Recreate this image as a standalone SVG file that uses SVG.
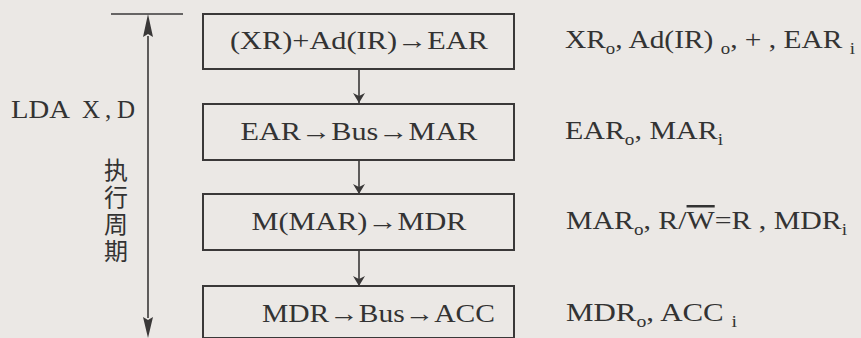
<svg xmlns="http://www.w3.org/2000/svg" width="861" height="338" viewBox="0 0 861 338">
<style>
.bg{fill:#ebe8e5}
.box{fill:none;stroke:#3a3838;stroke-width:2}
.ln{stroke:#3a3838;stroke-width:1.6;fill:none}
.t{font-family:'Liberation Serif','DejaVu Serif',serif;font-size:25px;fill:#333}
.bt{text-anchor:middle}
.sub{font-size:16px}
.ov{text-decoration:overline}
.cjk{font-family:'Noto Sans CJK SC',sans-serif;font-size:24px;fill:#333}
</style>
<defs>
<marker id="ah" viewBox="0 0 10 20" refX="10" refY="10" markerWidth="10" markerHeight="20" markerUnits="userSpaceOnUse" orient="auto">
<path d="M0,4 L10,10 L0,16 L3,10 Z" fill="#3a3838"/>
</marker>
</defs>
<rect class="bg" x="0" y="0" width="861" height="338"/>
<g id="connectors">
<line class="ln" x1="111" y1="14" x2="183" y2="14"/>
<line class="ln" x1="148" y1="36" x2="148" y2="318"/>
<path d="M148,14 L153,37 L148,34 L143,37 Z" fill="#3a3838"/>
<path d="M148,338 L153,317 L148,320 L143,317 Z" fill="#3a3838"/>
<line class="ln" x1="359" y1="69" x2="359" y2="103" marker-end="url(#ah)"/>
<line class="ln" x1="359" y1="160" x2="359" y2="194" marker-end="url(#ah)"/>
<line class="ln" x1="359" y1="250" x2="359" y2="286" marker-end="url(#ah)"/>
</g>
<g id="label-left">
<text class="t"><tspan x="11" y="118" textLength="59" lengthAdjust="spacingAndGlyphs">LDA</tspan><tspan x="82" y="118">X</tspan><tspan x="105" y="118">,</tspan><tspan x="117" y="118">D</tspan></text>
<text class="cjk" x="116" y="158" writing-mode="tb" letter-spacing="3">执行周期</text>
</g>
<g id="n1">
<rect class="box" x="203" y="14" width="311" height="55"/>
<text class="t bt" x="359" y="49" textLength="258" lengthAdjust="spacingAndGlyphs">(XR)+Ad(IR)→EAR</text>
</g>
<g id="n2">
<rect class="box" x="203" y="104" width="311" height="56"/>
<text class="t bt" x="359" y="140" textLength="237" lengthAdjust="spacingAndGlyphs">EAR→Bus→MAR</text>
</g>
<g id="n3">
<rect class="box" x="203" y="194" width="311" height="56"/>
<text class="t bt" x="359" y="230" textLength="215" lengthAdjust="spacingAndGlyphs">M(MAR)→MDR</text>
</g>
<g id="n4">
<rect class="box" x="203" y="286" width="311" height="52"/>
<text class="t" x="262" y="322" textLength="233" lengthAdjust="spacingAndGlyphs">MDR→Bus→ACC</text>
</g>
<g id="sig1">
<text class="t" x="565" y="48" textLength="290" lengthAdjust="spacingAndGlyphs">XR<tspan class="sub" dy="6">o</tspan><tspan dy="-6">, Ad(IR) </tspan><tspan class="sub" dy="6">o</tspan><tspan dy="-6">, + , EAR </tspan><tspan class="sub" dy="6">i</tspan></text>
</g>
<g id="sig2">
<text class="t" x="565" y="139" textLength="158" lengthAdjust="spacingAndGlyphs">EAR<tspan class="sub" dy="6">o</tspan><tspan dy="-6">, MAR</tspan><tspan class="sub" dy="6">i</tspan></text>
</g>
<g id="sig3">
<text class="t" x="566" y="229" textLength="281" lengthAdjust="spacingAndGlyphs">MAR<tspan class="sub" dy="6">o</tspan><tspan dy="-6">, R/</tspan><tspan class="ov">W</tspan>=R , MDR<tspan class="sub" dy="6">i</tspan></text>
</g>
<g id="sig4">
<text class="t" x="566" y="321" textLength="171" lengthAdjust="spacingAndGlyphs">MDR<tspan class="sub" dy="6">o</tspan><tspan dy="-6">, ACC </tspan><tspan class="sub" dy="6">i</tspan></text>
</g>
</svg>
